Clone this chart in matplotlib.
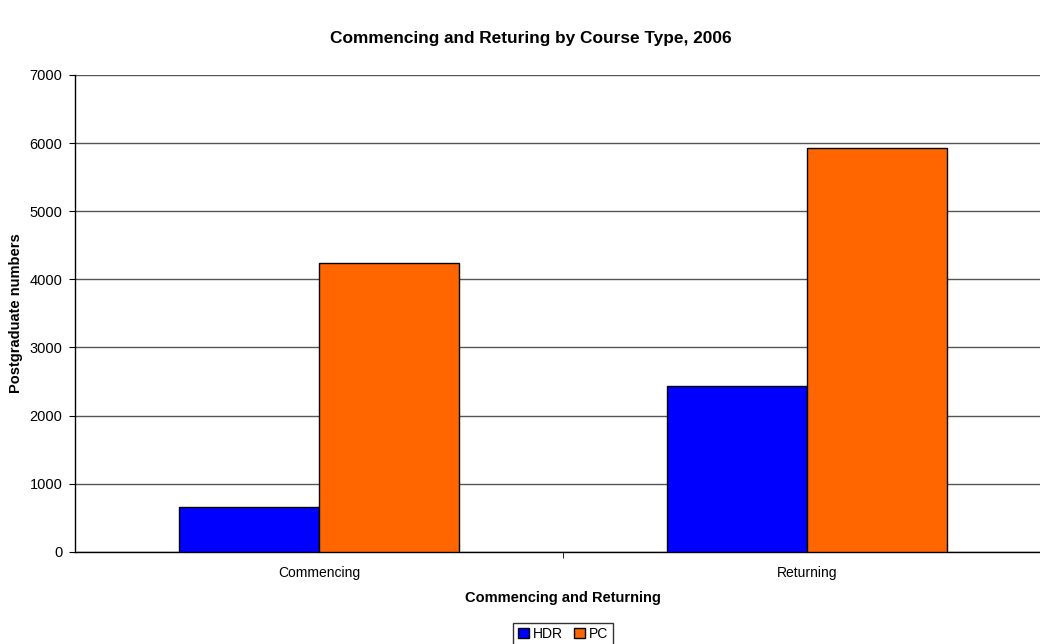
import matplotlib
matplotlib.use("Agg")
import matplotlib.pyplot as plt
import numpy as np

plt.rcParams['font.family'] = ['Liberation Sans', 'DejaVu Sans']

categories = ['Commencing', 'Returning']
series = ['HDR', 'PC']
hdr = [660, 2440]
pc = [4240, 5935]
colors = ['#0000ff', '#ff6600']

fig = plt.figure(figsize=(10.4, 6.44), dpi=100)
# plot area runs past the right edge, as in the original
ax = fig.add_axes([75/1040, 1 - 551.7/644, 976/1040, (551.7 - 75)/644])

x = np.arange(len(categories))
w = 0.287
ax.bar(x - w/2, hdr, w, color=colors[0], edgecolor='black', linewidth=1, label=series[0], zorder=3)
ax.bar(x + w/2, pc, w, color=colors[1], edgecolor='black', linewidth=1, label=series[1], zorder=3)

ax.set_xlim(-0.5, 1.5)
ax.set_ylim(0, 7000)
ax.set_yticks(np.arange(0, 7001, 1000))
ax.set_xticks(x)
ax.set_xticklabels(categories, fontsize=10)
ax.set_xticks([0.5], minor=True)
ax.tick_params(axis='x', which='major', length=0, pad=10)
ax.tick_params(axis='x', which='minor', length=4, direction='out')
ax.tick_params(axis='y', length=4, direction='out', labelsize=10.5, pad=5)
ax.yaxis.grid(True, color='#555555', linewidth=1, zorder=0)
for s in ['top', 'right']:
    ax.spines[s].set_visible(False)
ax.spines['left'].set_linewidth(1)
ax.spines['bottom'].set_linewidth(1)

ax.set_ylabel('Postgraduate numbers', fontsize=10.5, fontweight='bold')
ax.yaxis.set_label_coords(-52/976, 0.5)
fig.text(563/1040, 1 - 598/644, 'Commencing and Returning', fontsize=10.5,
         fontweight='bold', ha='center', va='center')
fig.text(531/1040, 1 - 38/644, 'Commencing and Returing by Course Type, 2006',
         fontsize=12.4, fontweight='bold', ha='center', va='center')

leg = fig.legend(loc='center', bbox_to_anchor=(563/1040, 1 - 634/644), ncol=2,
                 fontsize=10, frameon=True, fancybox=False, edgecolor='black',
                 handlelength=0.8, handleheight=0.8, handletextpad=0.3,
                 columnspacing=0.8, borderpad=0.3, borderaxespad=0)
leg.get_frame().set_linewidth(1)

fig.savefig('out.png', dpi=100)
